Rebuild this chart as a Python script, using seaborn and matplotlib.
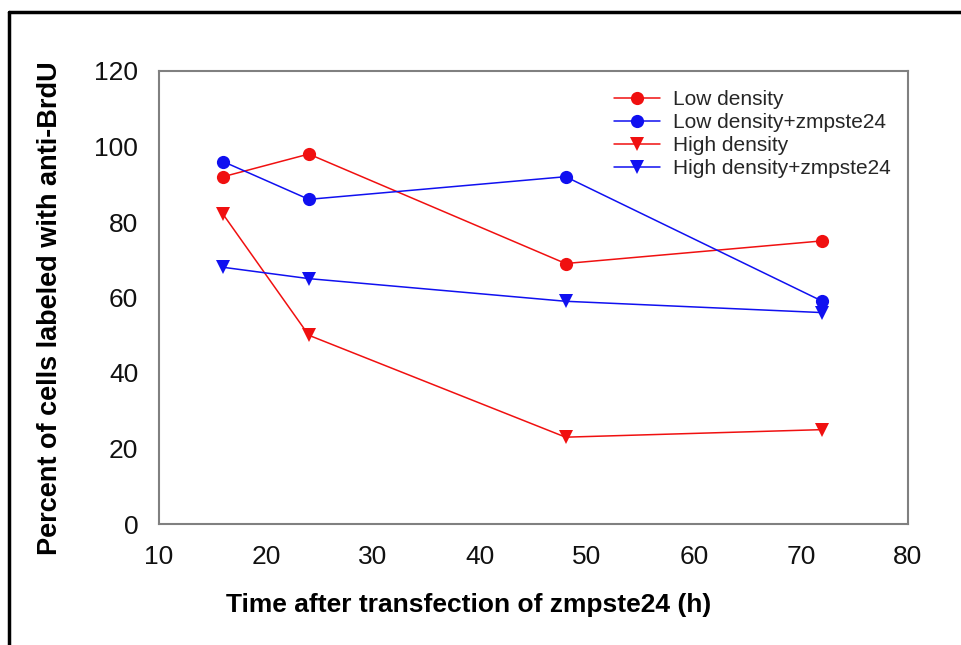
import matplotlib
matplotlib.use("Agg")
import matplotlib.pyplot as plt
import seaborn as sns
import pandas as pd
from matplotlib.lines import Line2D

sns.set_theme(style="white")
plt.rcParams['font.family'] = ['Liberation Sans', 'DejaVu Sans']

hours = [16, 24, 48, 72]
low_density = [92, 98, 69, 75]
low_density_zmp = [96, 86, 92, 59]
high_density = [82, 50, 23, 25]
high_density_zmp = [68, 65, 59, 56]
series_names = ["Low density", "Low density+zmpste24", "High density", "High density+zmpste24"]
x_ticks = [10, 20, 30, 40, 50, 60, 70, 80]
y_ticks = [0, 20, 40, 60, 80, 100, 120]

rows = []
for name, vals in zip(series_names, [low_density, low_density_zmp, high_density, high_density_zmp]):
    for h, v in zip(hours, vals):
        rows.append({"Time": h, "Percent": v, "Series": name})
df = pd.DataFrame(rows)

palette = {"Low density": "#f01010", "Low density+zmpste24": "#1010f0",
           "High density": "#f01010", "High density+zmpste24": "#1010f0"}
markers = {"Low density": "o", "Low density+zmpste24": "o",
           "High density": "v", "High density+zmpste24": "v"}

fig = plt.figure(figsize=(9.62, 6.45), dpi=100)
ax = fig.add_axes([159/962, 1-524/645, (908-159)/962, (524-71)/645])

sns.lineplot(data=df, x="Time", y="Percent", hue="Series", style="Series",
             hue_order=series_names, style_order=series_names,
             palette=palette, markers=markers, dashes=False, ax=ax,
             linewidth=1.1, markersize=9.5, markeredgewidth=0)

ax.set_xlim(10, 80)
ax.set_ylim(0, 120)
ax.set_xticks(x_ticks)
ax.set_yticks(y_ticks)
ax.tick_params(axis='both', direction='out', length=6, width=1.2, color='#808080',
               labelsize=19, labelcolor='#111111')
ax.tick_params(axis='y', pad=9)
ax.tick_params(axis='x', pad=9)
for s in ax.spines.values():
    s.set_color('#808080')
    s.set_linewidth(1.5)

ax.set_xlabel("Time after transfection of zmpste24 (h)", fontsize=19, fontweight='bold', color='black')
ax.set_ylabel("Percent of cells labeled with anti-BrdU", fontsize=19.5, fontweight='bold', color='black')
ax.xaxis.set_label_coords((469-159)/749, -(593-524)/453)
ax.yaxis.set_label_coords(-(159-63)/749, (524-308)/453)

leg = ax.legend(loc='upper left', bbox_to_anchor=((614-159)/749, (524-90)/453), frameon=False,
                fontsize=15, handlelength=2.2, handletextpad=0.65, labelspacing=0.19,
                borderaxespad=0, borderpad=0, title=None)

fig.add_artist(Line2D([9/962, 1], [1-12/645, 1-12/645], color='black', linewidth=2.5, transform=fig.transFigure))
fig.add_artist(Line2D([9/962, 9/962], [0, 1-12/645], color='black', linewidth=2.5, transform=fig.transFigure))

fig.savefig("out.png", dpi=100)
